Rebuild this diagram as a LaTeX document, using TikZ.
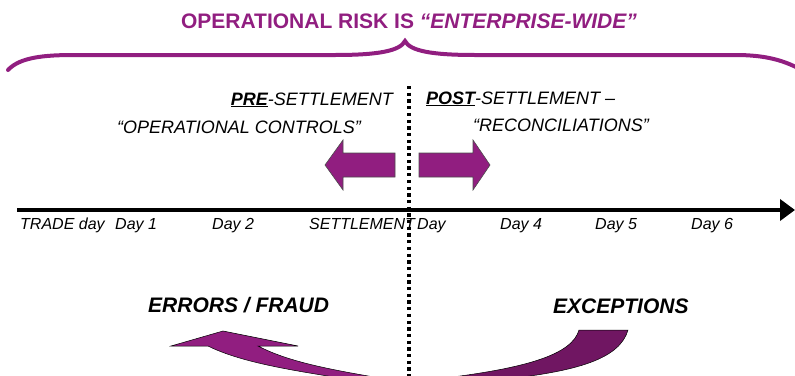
\documentclass[tikz,border=0pt]{standalone}
\usepackage{fontspec}
\setmainfont{Liberation Sans}
\usepackage{tikz}
\usetikzlibrary{arrows.meta, positioning}

\definecolor{riskpurple}{RGB}{145,30,128}
\definecolor{exceptpurple}{RGB}{112,22,98}

\tikzset{
	headline/.style={font=\fontsize{21}{25}\selectfont\bfseries, text=riskpurple, inner sep=0pt, anchor=base},
	phase/.style={font=\fontsize{18}{22}\selectfont\itshape, inner sep=0pt},
	daylabel/.style={font=\fontsize{16}{19}\selectfont\itshape, inner sep=0pt, anchor=base west},
	outcome/.style={font=\fontsize{21}{25}\selectfont\bfseries\itshape, inner sep=0pt, anchor=base west},
	blockarrow/.style={fill=riskpurple, draw=black!70, line width=0.6pt},
	bendarrow/.style={fill=riskpurple, draw=black, line width=0.5pt},
}

\begin{document}
\begin{tikzpicture}[x=1pt, y=-1pt]
	\useasboundingbox (0,0) rectangle (795,375);
	\clip (0,0) rectangle (795,375);

	\node[headline] (title) at (409,28) {OPERATIONAL RISK IS \textit{“ENTERPRISE-WIDE”}};
	\draw[riskpurple, line width=4pt, line cap=round] (8,70) .. controls (20,57) and (45,55) .. (75,55)
		-- (335,55) .. controls (378,55) and (400,51) .. (405,41)
		.. controls (410,51) and (432,55) .. (475,55)
		-- (735,55) .. controls (765,55) and (785,60) .. (805,72);

	\node[phase, anchor=base east] (pre) at (393,105) {\underline{\textbf{PRE}}-SETTLEMENT};
	\node[phase, anchor=base west] (precontrols) at (117,133) {“OPERATIONAL CONTROLS”};
	\node[phase, anchor=base west] (post) at (426,104) {\underline{\textbf{POST}}-SETTLEMENT –};
	\node[phase, anchor=base west] (postrecon) at (473,131) {“RECONCILIATIONS”};

	\filldraw[blockarrow] (395,153) -- (343,153) -- (343,140) -- (325,165) -- (343,190) -- (343,177) -- (395,177) -- cycle;
	\filldraw[blockarrow] (419,153) -- (473,153) -- (473,140) -- (490,165) -- (473,190) -- (473,177) -- (419,177) -- cycle;

	\coordinate (tstart) at (17,210);
	\coordinate (tend) at (795,210);
	\draw[line width=4pt, -{Triangle[length=15pt, width=21pt]}] (tstart) -- (tend);

	\node[daylabel] (trade) at (20,229) {TRADE day};
	\node[daylabel] (day1) at (115,229) {Day 1};
	\node[daylabel] (day2) at (212,229) {Day 2};
	\node[daylabel] (settle) at (309,229) {SETTLEMENT};
	\node[daylabel] (day3) at (417,229) {Day};
	\node[daylabel] (day4) at (500,229) {Day 4};
	\node[daylabel] (day5) at (595,229) {Day 5};
	\node[daylabel] (day6) at (691,229) {Day 6};

	\coordinate (dtop) at (409,86);
	\coordinate (dbottom) at (409,378);
	\draw[line width=3.3pt, dash pattern=on 3.3pt off 3.4pt] (dtop) -- (dbottom);

	\node[outcome] (errors) at (148,312) {ERRORS / FRAUD};
	\node[outcome] (exceptions) at (553,313) {EXCEPTIONS};

	\filldraw[bendarrow] (223,331) -- (298,346) -- (258,346)
		.. controls (285,360) and (320,368) .. (380,378) -- (340,378)
		.. controls (290,370) and (240,362) .. (208,346) -- (171,346) -- cycle;
	\filldraw[fill=exceptpurple, draw=black, line width=0.5pt] (579,330) -- (628,330)
		.. controls (620,358) and (580,370) .. (515,378) -- (445,378)
		.. controls (525,368) and (572,355) .. (579,330) -- cycle;
\end{tikzpicture}
\end{document}
